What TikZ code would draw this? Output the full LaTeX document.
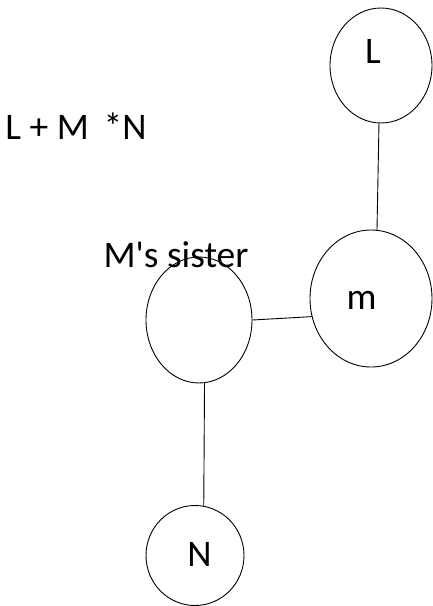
\documentclass[tikz,border=0pt]{standalone}
\usepackage{fontspec}
\setmainfont{Carlito}
\usetikzlibrary{shapes.geometric}

\begin{document}
\begin{tikzpicture}[x=1pt,y=-1pt,line width=0.9pt,
    font=\fontsize{37.5}{40}\selectfont,
    person/.style={draw,ellipse,inner sep=0pt},
    tag/.style={inner sep=0pt}]
    \useasboundingbox (0,0) rectangle (433,606);
  \node[tag,anchor=base west] (expr) at (5,139) {L + M \,*N};
  \node[person,minimum width=102pt,minimum height=115pt,
        label={[xshift=-8pt,yshift=14pt]center:L}] (L) at (381,65.5) {};
  \node[person,minimum width=122pt,minimum height=137pt,
        label={[xshift=-9.5pt,yshift=-1.5pt]center:m}] (m) at (371,298.5) {};
  \node[person,minimum width=106pt,minimum height=126pt] (sister) at (199,320) {};
  \node[tag,anchor=base] (sistername) at (176,267) {M\textquotesingle s sister};
  \node[person,minimum width=98pt,minimum height=100pt,
        label={[xshift=4.5pt,yshift=1.5pt]center:N}] (N) at (195,555.5) {};
  \draw (L.-92) -- (m.85);
  \draw (sister.east) -- (m.197);
  \draw (sister.-85) -- (N.80);
\end{tikzpicture}
\end{document}
